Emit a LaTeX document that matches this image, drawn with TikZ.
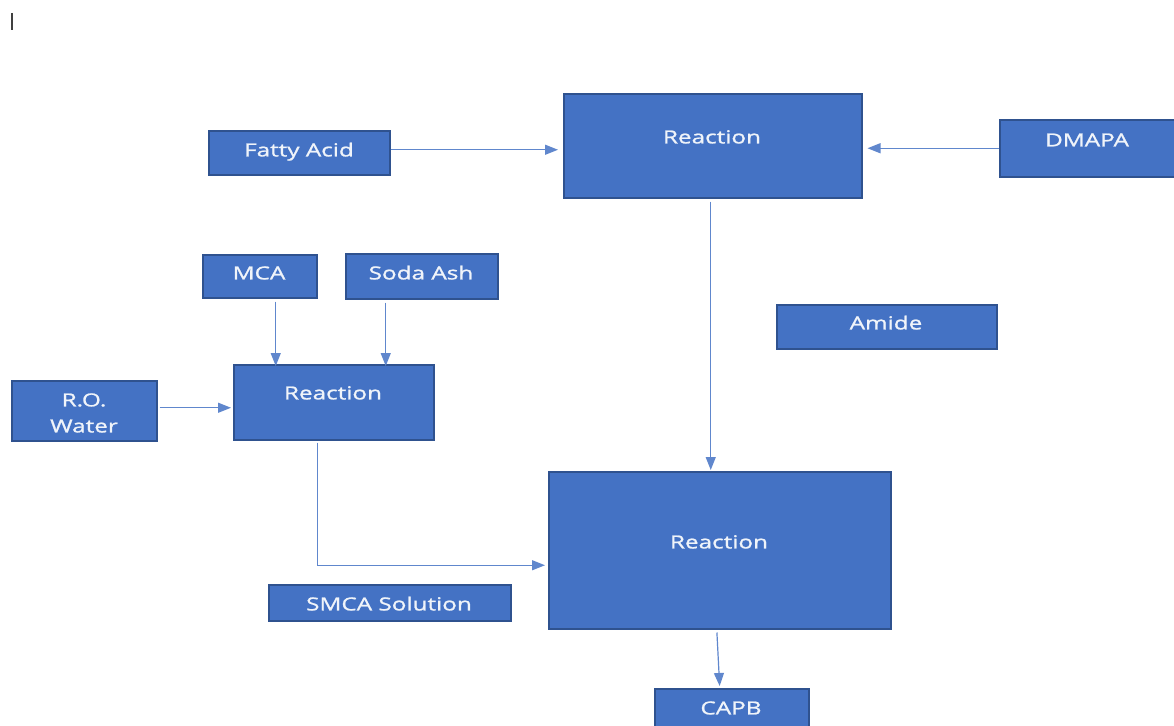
\documentclass[tikz,border=0pt]{standalone}
\usepackage{fontspec}
\setmainfont[FakeStretch=1.35,FakeBold=1.2]{Open Sans}
\usetikzlibrary{arrows.meta}
\definecolor{fillb}{HTML}{4472C4}
\definecolor{edgeb}{HTML}{2F528F}
\begin{document}
\begin{tikzpicture}[x=1pt,y=-1pt,
  box/.style={draw=edgeb, fill=fillb, line width=1.5pt, inner sep=0pt, anchor=north west},
  txt/.style={text=white!92!fillb, font=\fontsize{18}{20}\selectfont, inner sep=0pt, text height=12.8pt, text depth=0pt, anchor=center},
  arr/.style={draw=fillb!85!white, line width=1.2pt, -{Triangle[length=13pt,width=10pt]}}]
\useasboundingbox (0,0) rectangle (1174,725);
\clip (0,0) rectangle (1174,725);
\fill[white] (0,0) rectangle (1174,725);
% boxes
\node[box, minimum width=181, minimum height=44] (fa) at (208,130) {};
\node[box, minimum width=298, minimum height=104] (rt) at (563,93) {};
\node[box, minimum width=180, minimum height=57] (dm) at (999,119) {};
\node[box, minimum width=114, minimum height=43] (mca) at (202,254) {};
\node[box, minimum width=152, minimum height=45] (sa) at (345,253) {};
\node[box, minimum width=200, minimum height=75] (rm) at (233,364) {};
\node[box, minimum width=145, minimum height=60] (ro) at (11,380) {};
\node[box, minimum width=220, minimum height=44] (am) at (776,304) {};
\node[box, minimum width=342, minimum height=157] (rb) at (548,471) {};
\node[box, minimum width=242, minimum height=36] (sm) at (268,584) {};
\node[box, minimum width=154, minimum height=45] (cp) at (654,688) {};
% texts
\node[txt] (tfa) at (299,150) {Fatty Acid};
\node[txt] (trt) at (712,137) {Reaction};
\node[txt] (tdm) at (1087,140) {DMAPA};
\node[txt] (tmca) at (259,273) {MCA};
\node[txt] (tsa) at (421,273) {Soda Ash};
\node[txt] (trm) at (333,393) {Reaction};
\node[txt] (tro1) at (84,400) {R.O.};
\node[txt] (tro2) at (84,426) {Water};
\node[txt] (tam) at (886,323) {Amide};
\node[txt] (trb) at (719,542) {Reaction};
\node[txt] (tsm) at (389,604) {SMCA Solution};
\node[txt] (tcp) at (731,708) {CAPB};
% cursor mark
\draw[black!75, line width=1.5pt] (12,13) -- (12,30);
% connectors
\draw[arr, shorten >=5pt] ([yshift=3]fa.east) -- ([yshift=3]rt.west |- fa.east);
\draw[arr, shorten >=5pt] (dm.west) -- (rt.east |- dm.west);
\draw[arr, shorten <=3pt, shorten >=1pt] ([xshift=-2]rt.south) -- ([xshift=-2]rt.south |- rb.north);
\draw[arr, shorten <=3pt, shorten >=-2pt] ([xshift=16]mca.south) -- ([xshift=16]mca.south |- rm.north);
\draw[arr, shorten <=3pt, shorten >=-2pt] ([xshift=-36]sa.south) -- ([xshift=-36]sa.south |- rm.north);
\draw[arr, shorten <=2pt, shorten >=2pt] ([yshift=3]ro.east) -- ([yshift=3]ro.east -| rm.west);
\draw[arr, shorten <=2pt, shorten >=3pt] ([xshift=-16]rm.south) |- ([yshift=-15]rb.west);
\draw[arr, shorten <=3pt, shorten >=2pt] ([xshift=-3]rb.south) -- ([xshift=-12]cp.north);
\end{tikzpicture}
\end{document}
